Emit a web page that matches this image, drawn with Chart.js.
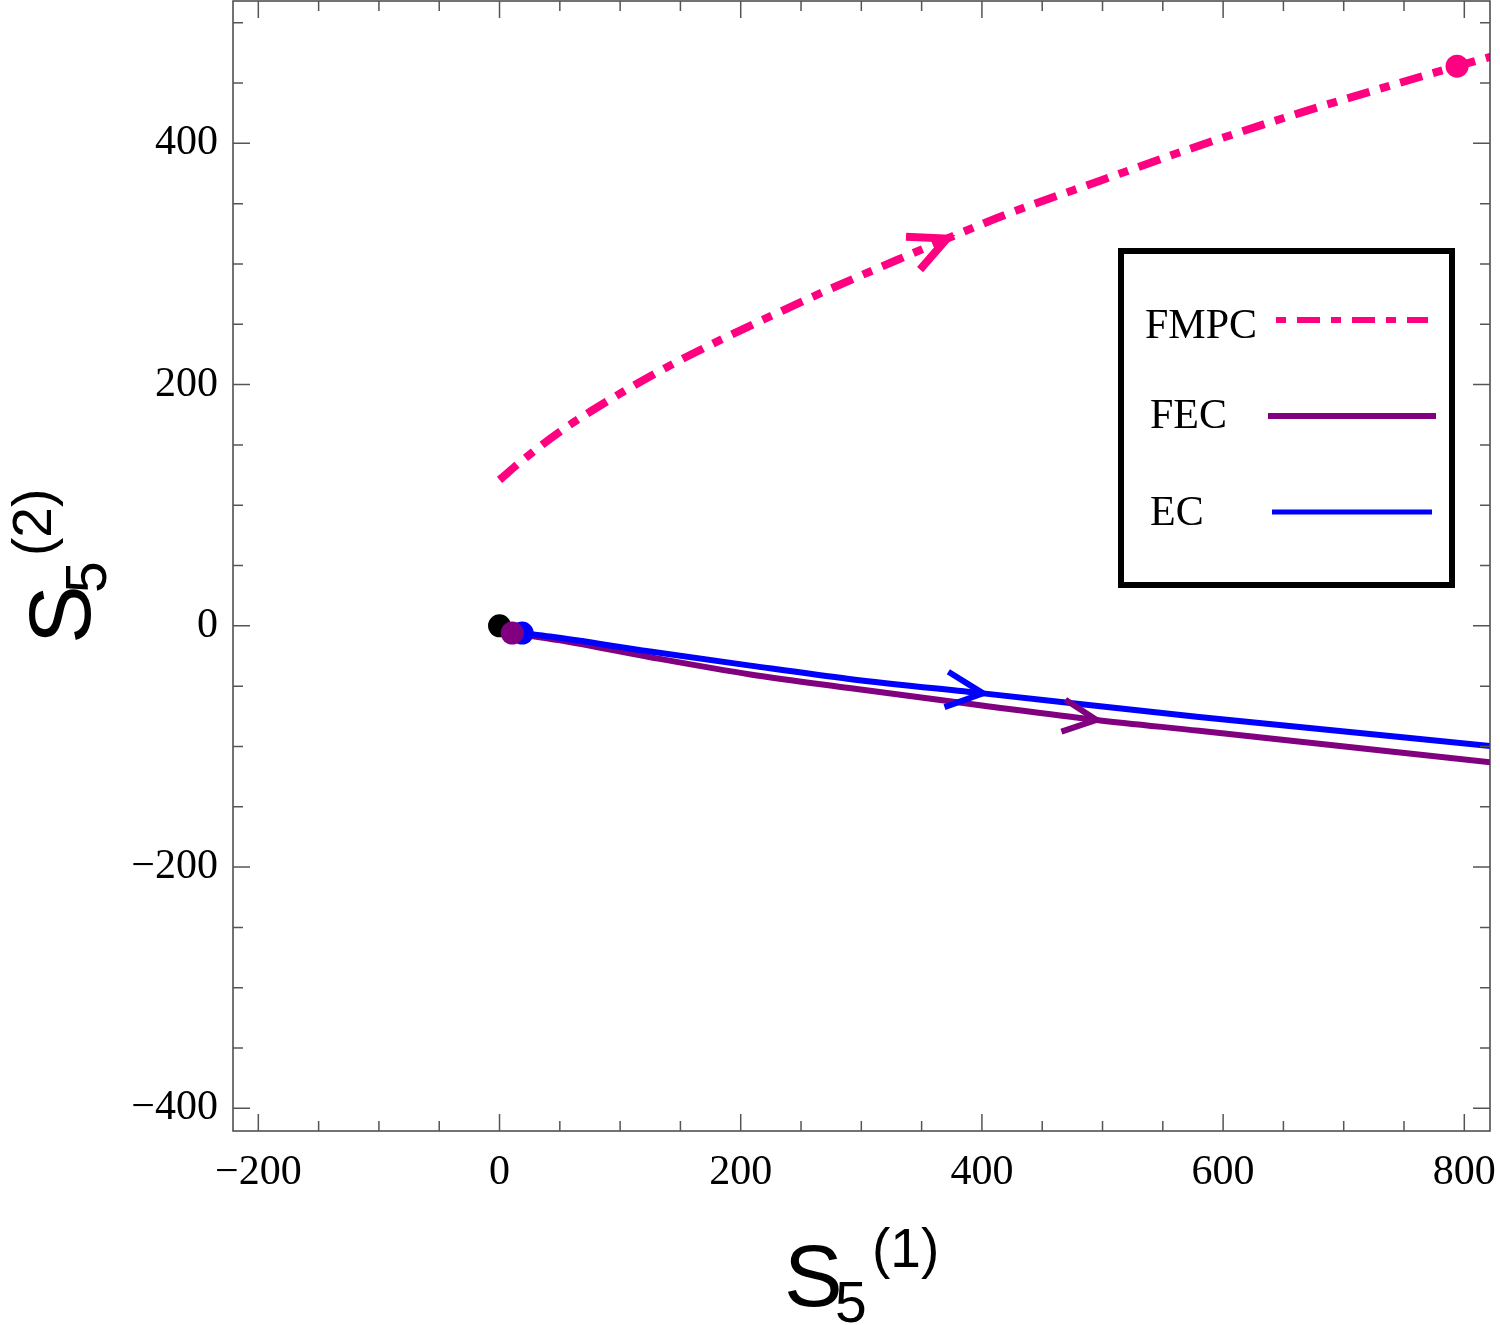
<!DOCTYPE html>
<html>
<head>
<meta charset="utf-8">
<script src="https://cdn.jsdelivr.net/npm/chart.js@4.4.1/dist/chart.umd.min.js"></script>
<style>
  html, body { margin: 0; padding: 0; background: #fff; }
  #wrap { width: 1500px; height: 1325px; }
</style>
</head>
<body>
<div id="wrap"><canvas id="chart" width="1500" height="1325"></canvas></div>
<script>
// axis ranges and ticks
const xRange = [-221, 821.3];
const yRange = [-418.8, 518];
const xTicks = [-200, 0, 200, 400, 600, 800];
const yTicks = [-400, -200, 0, 200, 400];
const xMinor = [-200, -150, -100, -50, 0, 50, 100, 150, 200, 250, 300, 350, 400, 450, 500, 550, 600, 650, 700, 750, 800];
const yMinor = [-400, -350, -300, -250, -200, -150, -100, -50, 0, 50, 100, 150, 200, 250, 300, 350, 400, 450, 500];

// trajectories
const fmpcX = [0, 20, 53, 94, 136, 177, 219, 260, 301, 343, 371, 420, 498, 580, 663, 746, 794, 830];
const fmpcY = [121, 138, 163, 189, 213, 234, 254, 273, 291, 309, 321, 341, 369, 398, 425, 450, 464, 474];
const fecX = [10.5, 50, 125, 208, 290, 400, 495, 580, 830];
const fecY = [-6, -12, -26, -40.3, -51.6, -66, -78, -87, -114];
const ecX = [18.8, 42, 125, 208, 290, 401, 580, 830];
const ecY = [-6, -8.9, -21.3, -33, -44, -56, -75.5, -100.5];

// marked points
const originPt = [0, 0];
const fecStart = [10.5, -6];
const ecStart = [18.8, -6];
const fmpcEnd = [794, 464];

// direction arrows: which curve, and x of the tip
const arrowSeries = ['FMPC', 'EC', 'FEC'];
const arrowX = [371, 401, 495];

const colors = { FMPC: 'rgb(255,0,128)', FEC: 'rgb(128,0,128)', EC: 'rgb(0,0,255)' };
const curves = { FMPC: [fmpcX, fmpcY], FEC: [fecX, fecY], EC: [ecX, ecY] };

const toPts = (xs, ys) => xs.map((x, i) => ({ x: x, y: ys[i] }));
const fmt = v => v < 0 ? '\u2212' + Math.abs(v) : String(v);
const FMPC_DASH = [23, 11, 10, 11];

function interp(xs, ys, x) {
    for (let i = 0; i < xs.length - 1; i++) {
        if (x >= xs[i] && x <= xs[i + 1]) {
            const t = (x - xs[i]) / (xs[i + 1] - xs[i]);
            return ys[i] + t * (ys[i + 1] - ys[i]);
        }
    }
    return ys[ys.length - 1];
}

function chevron(ctx, tx, ty, ang, len, half, width, color) {
    ctx.save();
    ctx.strokeStyle = color;
    ctx.lineWidth = width;
    ctx.lineCap = 'butt';
    ctx.lineJoin = 'miter';
    ctx.beginPath();
    ctx.moveTo(tx + len * Math.cos(ang + Math.PI - half), ty + len * Math.sin(ang + Math.PI - half));
    ctx.lineTo(tx, ty);
    ctx.lineTo(tx + len * Math.cos(ang + Math.PI + half), ty + len * Math.sin(ang + Math.PI + half));
    ctx.stroke();
    ctx.restore();
}

function drawTitle(ctx, ax, ay, rot, sup) {
    ctx.save();
    ctx.translate(ax, ay);
    ctx.rotate(rot);
    ctx.fillStyle = '#000';
    ctx.textAlign = 'left';
    ctx.textBaseline = 'alphabetic';
    ctx.font = '88px "Liberation Sans", Arial, sans-serif';
    ctx.fillText('S', 0, 0);
    ctx.font = '57px "Liberation Sans", Arial, sans-serif';
    ctx.fillText('5', 51, 16);
    ctx.font = '55px "Liberation Sans", Arial, sans-serif';
    ctx.fillText(sup, 88, -39);
    ctx.restore();
}

const framePlugin = {
    id: 'frame',
    afterDatasetsDraw(chart) {
        const ctx = chart.ctx;
        const a = chart.chartArea;
        const sx = chart.scales.x, sy = chart.scales.y;

        // direction arrows
        arrowSeries.forEach((name, i) => {
            const [xs, ys] = curves[name];
            const x = arrowX[i];
            const px = sx.getPixelForValue(x), py = sy.getPixelForValue(interp(xs, ys, x));
            const qx = sx.getPixelForValue(x - 8), qy = sy.getPixelForValue(interp(xs, ys, x - 8));
            const ang = Math.atan2(py - qy, px - qx);
            const big = name === 'FMPC';
            chevron(ctx, px, py, ang, name === 'FEC' ? 37 : 41, 0.45, big ? 8 : 6, colors[name]);
        });

        // frame with inward ticks
        ctx.save();
        ctx.strokeStyle = '#444';
        ctx.lineWidth = 1.5;
        ctx.strokeRect(a.left, a.top, a.right - a.left, a.bottom - a.top);
        ctx.strokeStyle = '#555';
        ctx.beginPath();
        xMinor.forEach(v => {
            const p = sx.getPixelForValue(v);
            const l = xTicks.includes(v) ? 17 : 10;
            ctx.moveTo(p, a.bottom); ctx.lineTo(p, a.bottom - l);
            ctx.moveTo(p, a.top); ctx.lineTo(p, a.top + l);
        });
        yMinor.forEach(v => {
            const p = sy.getPixelForValue(v);
            const l = yTicks.includes(v) ? 17 : 10;
            ctx.moveTo(a.left, p); ctx.lineTo(a.left + l, p);
            ctx.moveTo(a.right, p); ctx.lineTo(a.right - l, p);
        });
        ctx.stroke();
        ctx.restore();
    },
    afterDraw(chart) {
        const ctx = chart.ctx;
        const a = chart.chartArea;
        const cx = (a.left + a.right) / 2, cy = (a.top + a.bottom) / 2;

        drawTitle(ctx, cx - 77.5, 1306, 0, '(1)');
        drawTitle(ctx, 90, cy + 78, -Math.PI / 2, '(2)');

        // legend box
        ctx.save();
        ctx.strokeStyle = '#000';
        ctx.lineWidth = 6;
        ctx.strokeRect(1121, 251, 331, 334);
        ctx.fillStyle = '#000';
        ctx.font = '42px "Liberation Serif", "Times New Roman", serif';
        ctx.textBaseline = 'alphabetic';
        const rows = [
            { name: 'FMPC', tx: 1145, ty: 338, x0: 1276, x1: 1428, y: 320, w: 6 },
            { name: 'FEC', tx: 1150, ty: 428, x0: 1268, x1: 1436, y: 416, w: 6 },
            { name: 'EC', tx: 1150, ty: 525, x0: 1272, x1: 1432, y: 512, w: 5 }
        ];
        rows.forEach(r => {
            ctx.fillText(r.name, r.tx, r.ty);
            ctx.save();
            ctx.strokeStyle = colors[r.name];
            ctx.lineWidth = r.w;
            ctx.lineCap = 'butt';
            if (r.name === 'FMPC') ctx.setLineDash([10, 11, 23, 11]);
            ctx.beginPath();
            ctx.moveTo(r.x0, r.y);
            ctx.lineTo(r.x1, r.y);
            ctx.stroke();
            ctx.restore();
        });
        ctx.restore();
    }
};

const dot = (pt, color, r) => ({
    data: [{ x: pt[0], y: pt[1] }],
    showLine: false,
    pointRadius: r,
    pointBackgroundColor: color,
    pointBorderWidth: 0
});

const curve = (name, dash, width) => ({
    label: name,
    data: toPts(curves[name][0], curves[name][1]),
    showLine: true,
    borderColor: colors[name],
    borderWidth: width,
    borderDash: dash,
    borderCapStyle: 'butt',
    pointRadius: 0,
    cubicInterpolationMode: 'monotone',
    fill: false
});

// drop the extra room chart.js keeps for edge labels
function noPad(s) {
    s.paddingTop = 0; s.paddingBottom = 0; s.paddingLeft = 0; s.paddingRight = 0;
}

const tickFont = { family: '"Liberation Serif", "Times New Roman", serif', size: 42 };

new Chart(document.getElementById('chart'), {
    type: 'scatter',
    data: {
        datasets: [
            // first dataset is drawn on top
            dot(fecStart, colors.FEC, 11.5),
            dot(ecStart, colors.EC, 11.5),
            dot(originPt, '#000', 11.5),
            dot(fmpcEnd, colors.FMPC, 11.5),
            curve('EC', [], 6),
            curve('FEC', [], 6),
            curve('FMPC', FMPC_DASH, 8)
        ]
    },
    options: {
        responsive: false,
        animation: false,
        devicePixelRatio: 1,
        layout: { autoPadding: false, padding: { top: 1, right: 10, left: 0, bottom: 0 } },
        plugins: { legend: { display: false }, tooltip: { enabled: false } },
        scales: {
            x: {
                type: 'linear',
                min: xRange[0],
                max: xRange[1],
                afterFit(s) { s.height = 194; noPad(s); },
                afterBuildTicks(s) { s.ticks = xTicks.map(v => ({ value: v })); },
                grid: { display: false, drawTicks: false },
                border: { display: false },
                ticks: { color: '#000', padding: 17, maxRotation: 0, autoSkip: false, font: tickFont, callback: fmt }
            },
            y: {
                type: 'linear',
                min: yRange[0],
                max: yRange[1],
                afterFit(s) { s.width = 233; noPad(s); },
                afterBuildTicks(s) { s.ticks = yTicks.map(v => ({ value: v })); },
                grid: { display: false, drawTicks: false },
                border: { display: false },
                ticks: { color: '#000', padding: 15, autoSkip: false, font: tickFont, callback: fmt }
            }
        }
    },
    plugins: [framePlugin]
});
</script>
</body>
</html>
